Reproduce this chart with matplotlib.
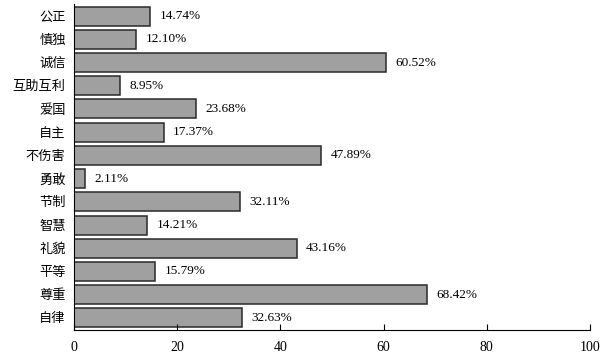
import matplotlib.pyplot as plt

plt.rcParams['font.family'] = ['Liberation Serif', 'Noto Sans CJK SC']

categories = ['公正', '慎独', '诚信', '互助互利', '爱国', '自主', '不伤害',
              '勇敢', '节制', '智慧', '礼貌', '平等', '尊重', '自律']
values = [14.74, 12.10, 60.52, 8.95, 23.68, 17.37, 47.89,
          2.11, 32.11, 14.21, 43.16, 15.79, 68.42, 32.63]
xticks = [0, 20, 40, 60, 80, 100]

fig = plt.figure(figsize=(6.08, 3.63), dpi=100)
ax = fig.add_axes([0.1217, 0.0909, 0.8487, 0.898])

ypos = list(range(len(categories)))
ax.barh(ypos, values, height=0.82, color='#a0a0a0', edgecolor='#2a2a2a', linewidth=1.1)
for y, v in zip(ypos, values):
    ax.text(v + 1.8, y, f'{v:.2f}%', va='center', ha='left', fontsize=9.5)

ax.set_yticks(ypos)
ax.set_yticklabels(categories, fontsize=9.5)
ax.set_ylim(len(categories) - 0.48, -0.52)
ax.set_xlim(0, 100)
ax.set_xticks(xticks)
ax.set_xticklabels([str(t) for t in xticks], fontsize=10)
ax.tick_params(axis='x', direction='in', length=4, pad=8)
ax.tick_params(axis='y', length=0, pad=6)
ax.spines['top'].set_visible(False)
ax.spines['right'].set_visible(False)

fig.savefig('out.png', dpi=100)
